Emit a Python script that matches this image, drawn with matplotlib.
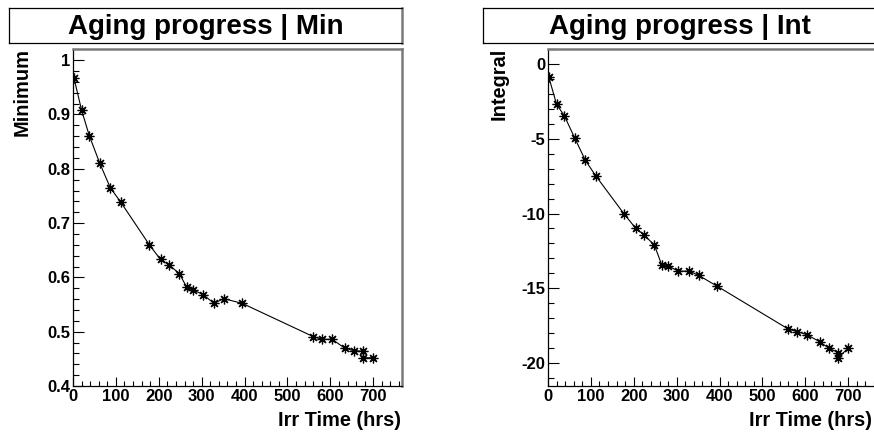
import matplotlib
matplotlib.use("Agg")
import matplotlib.pyplot as plt
from matplotlib.ticker import MultipleLocator, FixedLocator, FixedFormatter

plt.rcParams['font.family'] = ['Liberation Sans', 'DejaVu Sans']
plt.rcParams['font.weight'] = 'bold'

# Irradiation time of each measurement (hours)
hours = [2, 20, 38, 62, 87, 111, 178, 204, 224, 248, 265, 280,
         304, 329, 351, 395, 560, 581, 604, 633, 654, 677, 677, 699]
# Pulse minimum at each time
minimum = [0.968, 0.908, 0.861, 0.811, 0.765, 0.739, 0.660, 0.633, 0.623,
           0.607, 0.582, 0.577, 0.568, 0.552, 0.561, 0.552, 0.491, 0.486,
           0.486, 0.470, 0.465, 0.464, 0.452, 0.452]
# Pulse integral at each time
integral = [-0.87, -2.68, -3.44, -4.92, -6.43, -7.46, -10.05, -10.97, -11.44,
            -12.11, -13.43, -13.50, -13.87, -13.85, -14.14, -14.88, -17.74,
            -17.92, -18.12, -18.59, -19.01, -19.33, -19.66, -19.04]

x_ticks = [0, 100, 200, 300, 400, 500, 600, 700]
min_ticks = [0.4, 0.5, 0.6, 0.7, 0.8, 0.9, 1.0]
min_labels = ["0.4", "0.5", "0.6", "0.7", "0.8", "0.9", "1"]
int_ticks = [-20, -15, -10, -5, 0]
int_labels = ["-20", "-15", "-10", "-5", "0"]

W, H = 874, 432
fig = plt.figure(figsize=(W / 100, H / 100), dpi=100)
fig.patch.set_facecolor("white")


def px_rect(x0, y_top, w, h):
    return [x0 / W, (H - y_top - h) / H, w / W, h / H]


def panel(x0, box_x0, title, ylabel, ylabel_x, xlabel_right, yvals, ylim,
          yticks, ylabels, yminor):
    # title pave
    tax = fig.add_axes(px_rect(box_x0, 8, 393, 35))
    tax.set_xticks([]); tax.set_yticks([])
    for s in ("left", "top", "bottom"):
        tax.spines[s].set_color("black"); tax.spines[s].set_linewidth(0.9)
    tax.spines["right"].set_color("#7a7a7a"); tax.spines["right"].set_linewidth(1.8)
    tax.text(0.5, 0.47, title, ha="center", va="center", fontsize=20,
             fontweight="bold", transform=tax.transAxes)

    ax = fig.add_axes(px_rect(x0, 49, 329, 337))
    ax.plot(hours, yvals, color="black", lw=0.8, marker=(8, 2, 0),
            markersize=7, markeredgewidth=0.9, markeredgecolor="black")
    ax.set_xlim(0, 767)
    ax.set_ylim(*ylim)
    ax.xaxis.set_major_locator(FixedLocator(x_ticks))
    ax.xaxis.set_major_formatter(FixedFormatter([str(t) for t in x_ticks]))
    ax.xaxis.set_minor_locator(MultipleLocator(20))
    ax.yaxis.set_major_locator(FixedLocator(yticks))
    ax.yaxis.set_major_formatter(FixedFormatter(ylabels))
    ax.yaxis.set_minor_locator(MultipleLocator(yminor))
    ax.tick_params(axis="x", which="major", direction="in", length=6.5, width=0.8,
                   labelsize=12, pad=2, top=False)
    ax.tick_params(axis="x", which="minor", direction="in", length=3.6, width=0.8, top=False)
    ax.tick_params(axis="y", which="major", direction="in", length=8, width=0.8,
                   labelsize=12, pad=2, right=False)
    ax.tick_params(axis="y", which="minor", direction="in", length=4.3, width=0.8, right=False)
    for lab in ax.get_xticklabels() + ax.get_yticklabels():
        lab.set_fontweight("bold")
    for s in ("left", "bottom"):
        ax.spines[s].set_color("black"); ax.spines[s].set_linewidth(0.9)
    for s in ("top", "right"):
        ax.spines[s].set_color("#7a7a7a"); ax.spines[s].set_linewidth(1.8)

    fig.text(xlabel_right / W, (H - 420) / H, "Irr Time (hrs)", ha="right", va="center",
             fontsize=14.4, fontweight="bold")
    fig.text(ylabel_x / W, (H - 48) / H, ylabel, ha="center", va="top", rotation=90,
             fontsize=14.4, fontweight="bold")


panel(73, 9, "Aging progress | Min", "Minimum", 22, 401, minimum,
      (0.4, 1.0206), min_ticks, min_labels, 0.02)
panel(548, 483, "Aging progress | Int", "Integral", 499.5, 872, integral,
      (-21.56, 1.03), int_ticks, int_labels, 1)

fig.savefig("out.png", dpi=100, facecolor="white")
